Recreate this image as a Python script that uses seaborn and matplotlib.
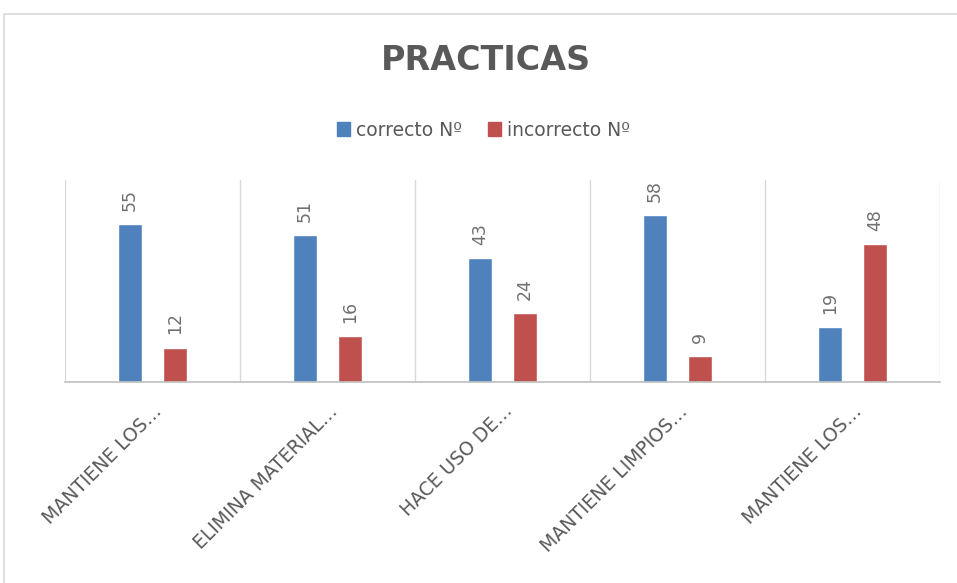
import matplotlib
matplotlib.use("Agg")
import matplotlib.pyplot as plt
import seaborn as sns
import pandas as pd
from matplotlib.patches import Rectangle, Patch

categories = ["MANTIENE LOS…", "ELIMINA MATERIAL…", "HACE USO DE…", "MANTIENE LIMPIOS…", "MANTIENE LOS…"]
cat_ids = ["c1", "c2", "c3", "c4", "c5"]
series_names = ["correcto Nº", "incorrecto Nº"]
correcto = [55, 51, 43, 58, 19]
incorrecto = [12, 16, 24, 9, 48]
colors = ["#4F81BD", "#C0504D"]

df = pd.DataFrame({
    "cat": cat_ids * 2,
    "serie": [series_names[0]] * 5 + [series_names[1]] * 5,
    "valor": correcto + incorrecto,
})

sns.set_theme(style="white")
plt.rcParams['font.family'] = ['DejaVu Sans']

fig = plt.figure(figsize=(9.57, 5.83), dpi=100)
ax = fig.add_axes([65/957, 1-382/583, 875/957, 202/583])

sns.barplot(data=df, x="cat", y="valor", hue="serie", palette=colors,
            width=0.514, gap=0.47, ax=ax, legend=False, saturation=1)

ax.set_ylim(0, 70.3)
ax.set_xlim(-0.5, 4.5)
ax.set_xlabel("")
ax.set_ylabel("")
ax.set_yticks([])
for s in ["top", "right", "left"]:
    ax.spines[s].set_visible(False)
ax.spines["bottom"].set_color("#bfbfbf")
ax.spines["bottom"].set_linewidth(1.2)
for xb in [-0.5, 0.5, 1.5, 2.5, 3.5, 4.5]:
    ax.axvline(xb, color="#d9d9d9", lw=1, zorder=0)

ax.set_xticks(range(5))
ax.set_xticklabels(categories, rotation=45, ha="right", rotation_mode="anchor",
                   color="#595959", fontsize=13.5)
ax.tick_params(axis="x", length=0, pad=14)

for cont in ax.containers:
    ax.bar_label(cont, labels=[f"{int(v)}" for v in cont.datavalues], rotation=90,
                 padding=9.5, color="#707070", fontsize=12.5)

fig.text(0.508, 0.897, "PRACTICAS", ha="center", va="center", fontsize=24,
         fontweight="bold", color="#595959")

handles = [Patch(facecolor=c, edgecolor=c) for c in colors]
fig.legend(handles, series_names, loc="center", bbox_to_anchor=(0.505, 0.777), ncol=2,
           frameon=False, fontsize=13.5, handlelength=0.7, handleheight=0.7,
           handletextpad=0.3, columnspacing=1.4, labelcolor="#595959")

fig.patches.append(Rectangle((4/957, -0.1), 1.2, (1 - 14/583) + 0.1, transform=fig.transFigure,
                             fill=False, edgecolor="#d9d9d9", lw=1.2, zorder=0))

fig.savefig("out.png", dpi=100)
